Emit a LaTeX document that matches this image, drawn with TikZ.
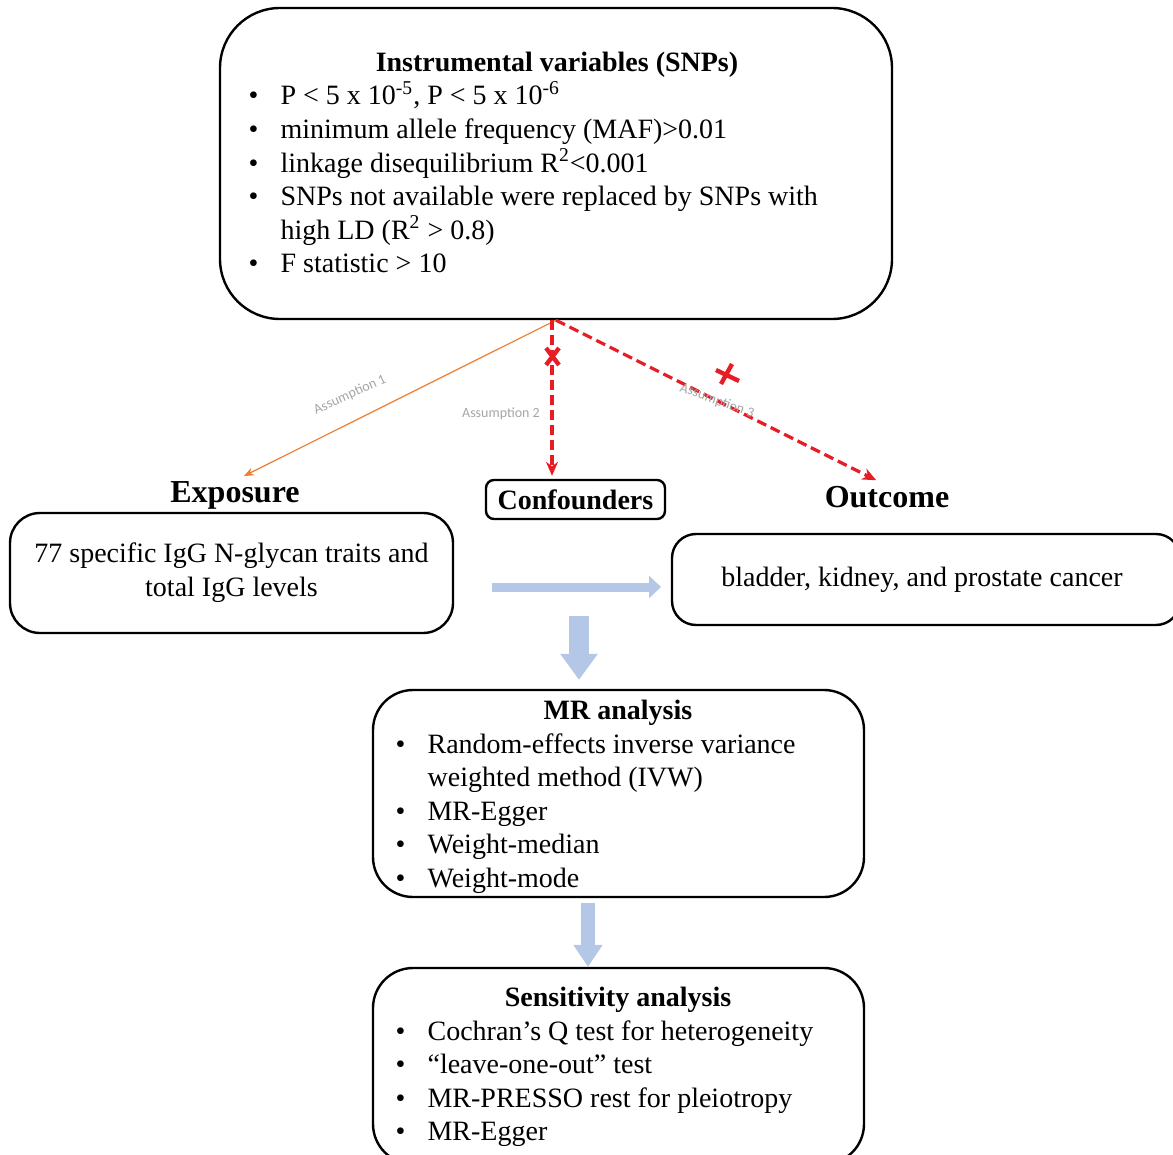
\documentclass[tikz,border=0pt]{standalone}
\usepackage{fontspec}
\setmainfont{Liberation Serif}
\newfontfamily\labelfont{Carlito}
\usetikzlibrary{positioning,arrows.meta}
\definecolor{assumorange}{RGB}{237,125,49}
\definecolor{assumred}{RGB}{232,28,36}
\definecolor{flowblue}{RGB}{180,199,231}
\definecolor{labgray}{RGB}{165,165,165}

\begin{document}
\begin{tikzpicture}[x=0.5pt,y=-0.5pt,
semithick,
box/.style={draw,rounded corners=#1,line width=1.2pt,inner sep=0pt},
heading/.style={font=\fontsize{16}{19}\selectfont\bfseries,inner sep=0pt},
title/.style={font=\fontsize{14}{17}\selectfont\bfseries,inner sep=0pt,anchor=base},
items/.style={font=\fontsize{14}{16.8}\selectfont,inner sep=0pt,anchor=base west,align=left},
assum/.style={font=\labelfont\fontsize{7}{8}\selectfont,text=labgray,inner sep=0pt},
valid/.style={-{Stealth[length=5pt,width=4pt]},assumorange,line width=0.6pt},
violated/.style={-{Stealth[length=7pt,width=6pt]},assumred,line width=1.6pt,
    dash pattern=on 5pt off 2.5pt},
cross/.style={assumred,line width=2.2pt}
]
\useasboundingbox (0,0) rectangle (1173,1155);
\clip (0,0) rectangle (1173,1155);

% instrumental variables
\node[box=30pt,minimum width=336pt,minimum height=155.5pt] (iv) at (556,163.5) {};
\node[title] (ivtitle) at (557,72) {Instrumental variables (SNPs)};
\node[items] (ivlist) at (248,105) {\begin{tabular}[t]{@{}p{16pt}@{}l@{}}
\textbullet & P < 5 x 10\textsuperscript{-5}, P < 5 x 10\textsuperscript{-6}\\
\textbullet & minimum allele frequency (MAF)>0.01\\
\textbullet & linkage disequilibrium R\textsuperscript{2}<0.001\\
\textbullet & SNPs not available were replaced by SNPs with\\
            & high LD (R\textsuperscript{2} > 0.8)\\
\textbullet & F statistic > 10
\end{tabular}};

% exposure, confounders, outcome
\node[box=15pt,minimum width=221.5pt,minimum height=60pt,align=center,
    font=\fontsize{14}{17}\selectfont] (expbox) at (231.5,573)
    {77 specific IgG N-glycan traits and\\total IgG levels};
\node[heading] (explbl) at (235,495) {Exposure};
\node[box=4pt,minimum width=89.5pt,minimum height=19.5pt,
    font=\fontsize{14}{17}\selectfont\bfseries] (conf) at (575.5,499.5) {Confounders};
\node[box=12pt,minimum width=254pt,minimum height=45.5pt,
    font=\fontsize{14}{17}\selectfont] (outbox) at (926,579.5)
    {\hspace*{-2pt}bladder, kidney, and prostate cancer\hspace*{2pt}};
\node[heading] (outlbl) at (887,497) {Outcome};

% assumptions
\draw[valid,shorten >=5pt] (iv.south) -- (explbl.north);
\draw[violated,shorten >=1.5pt] ([xshift=-2pt]iv.south) -- ([xshift=-2pt]iv.south |- conf.north);
\draw[violated,shorten >=6pt] (iv.south) -- (outlbl.north);
\node[assum,rotate=24.5] (a1) at (350,395) {Assumption 1};
\node[assum] (a2) at (501,414) {Assumption 2};
\node[assum,rotate=-20] (a3) at (717,401) {Assumption 3};
\draw[cross] (546,348) -- (559,365) (559,348) -- (546,365);
\draw[cross] (721,384) -- (732,364) (716,370) -- (739,381);

% analysis flow
\coordinate (h1) at (492,587);
\coordinate (h2) at (661,587);
\draw[flowblue,line width=4.5pt,-{Triangle[length=6pt,width=11pt]}] (h1) -- (h2);
\node[box=20pt,minimum width=245.5pt,minimum height=103.5pt] (mr) at (618.5,793.5) {};
\node[title] (mrtitle) at (618,719) {MR analysis};
\node[items] (mrlist) at (395,753) {\begin{tabular}[t]{@{}p{16pt}@{}l@{}}
\textbullet & Random-effects inverse variance\\
            & weighted method (IVW)\\
\textbullet & MR-Egger\\
\textbullet & Weight-median\\
\textbullet & Weight-mode
\end{tabular}};
\coordinate (d1) at (579,616);
\draw[flowblue,line width=10pt,-{Triangle[length=13pt,width=18pt]},shorten >=4.5pt]
    (d1) -- (d1 |- mr.north);
\node[box=20pt,minimum width=245.5pt,minimum height=98pt] (sens) at (618.5,1066) {};
\node[title] (senstitle) at (618,1006) {Sensitivity analysis};
\node[items] (senslist) at (395,1040) {\begin{tabular}[t]{@{}p{16pt}@{}l@{}}
\textbullet & Cochran’s Q test for heterogeneity\\
\textbullet & “leave-one-out” test\\
\textbullet & MR-PRESSO rest for pleiotropy\\
\textbullet & MR-Egger
\end{tabular}};
\coordinate (d2) at (588,903);
\draw[flowblue,line width=7pt,-{Triangle[length=11pt,width=14pt]}] (d2) -- (d2 |- sens.north);
\end{tikzpicture}
\end{document}
